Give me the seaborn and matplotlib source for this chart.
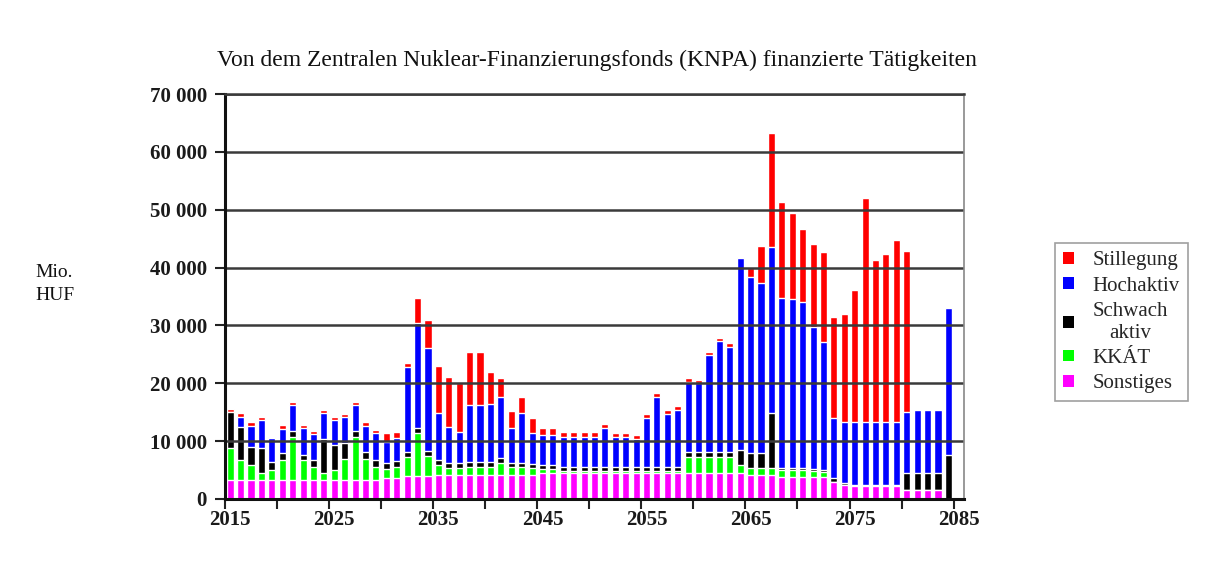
import numpy as np
import pandas as pd
import matplotlib
matplotlib.use("Agg")
import matplotlib.pyplot as plt
import seaborn as sns
from matplotlib.patches import Patch
from matplotlib.ticker import FixedLocator, FuncFormatter

years = list(range(2015, 2086))

sonstiges = [3300, 3300, 3300, 3300, 3300, 3300, 3300, 3300, 3300, 3300,
             3300, 3300, 3300, 3300, 3300, 3550, 3600, 3900, 3900, 3900,
             4150, 4150, 4150, 4150, 4150, 4150, 4150, 4150, 4150, 4150,
             4450, 4450, 4550, 4550, 4550, 4550, 4550, 4550, 4550, 4550,
             4550, 4550, 4550, 4550, 4550, 4550, 4550, 4550, 4550, 4450,
             4150, 4150, 4150, 3800, 3800, 3800, 3800, 3800, 3000, 2400,
             2200, 2200, 2200, 2200, 2200, 1550, 1550, 1550, 1550, 0, 0]
kkat = [5450, 3450, 2600, 1150, 1700, 3450, 7500, 3450, 2300, 1150,
        1700, 3700, 7500, 3700, 2300, 1550, 1900, 3400, 7500, 3450,
        1700, 1150, 1250, 1450, 1450, 1450, 2000, 1300, 1300, 1150,
        700, 700, 350, 350, 350, 350, 350, 350, 350, 350,
        350, 350, 350, 350, 2750, 2750, 2750, 2750, 2750, 1450,
        1150, 1150, 1150, 1200, 1200, 1200, 1100, 900, 0, 0,
        0, 0, 0, 0, 0, 0, 0, 0, 0, 0, 0]
schwach = [6300, 5750, 3150, 4300, 1450, 1150, 870, 860, 1150, 6000,
           4350, 2600, 870, 1150, 1150, 1050, 1000, 900, 900, 870,
           900, 850, 850, 850, 850, 850, 870, 700, 700, 700,
           750, 750, 690, 690, 690, 690, 690, 690, 690, 690,
           690, 690, 690, 690, 870, 870, 870, 870, 870, 2600,
           2600, 2600, 9500, 300, 300, 300, 300, 300, 570, 300,
           250, 250, 250, 250, 250, 2900, 2900, 2900, 2900, 7600, 0]
hochaktiv = [0, 1750, 3600, 4900, 4050, 4250, 4600, 4600, 4500, 4500,
             4300, 4600, 4600, 4500, 4600, 3750, 4000, 14550, 18200, 17860,
             8050, 6350, 5390, 9790, 9790, 10000, 10660, 6060, 8650, 5350,
             5160, 5160, 5180, 5180, 5180, 5180, 6610, 5060, 5060, 4770,
             8340, 11970, 9090, 9710, 12080, 11830, 16690, 19110, 18130, 33100,
             30500, 29400, 28800, 29400, 29200, 28800, 24500, 22200, 10370, 10660,
             10910, 10910, 10910, 10910, 10910, 10650, 10930, 10930, 10930, 25350, 0]
stillegung = [550, 570, 580, 580, 300, 580, 580, 580, 570, 450,
              500, 570, 580, 700, 570, 1450, 1000, 800, 4180, 4850,
              8180, 8640, 8350, 9220, 9220, 5550, 3290, 2990, 2770, 2600,
              1150, 1150, 750, 750, 750, 750, 700, 700, 700, 700,
              700, 700, 700, 700, 600, 600, 600, 600, 600, 300,
              1450, 6450, 19700, 16700, 15000, 12500, 14400, 15550, 17570, 18600,
              22760, 38600, 27940, 28980, 31400, 27800, 0, 0, 0, 0, 0]

series_names = ["Sonstiges", "KKÁT", "Schwach\naktiv", "Hochaktiv", "Stillegung"]
series_vals = [sonstiges, kkat, schwach, hochaktiv, stillegung]
series_colors = ["#FF00FF", "#00FF00", "#000000", "#0000FF", "#FF0000"]

cum = np.zeros(len(years))
cums = []
for v in series_vals:
    cum = cum + np.array(v, dtype=float)
    cums.append(cum.copy())

sns.set_theme(style="white")
plt.rcParams["font.family"] = ["Liberation Serif", "DejaVu Serif"]

fig = plt.figure(figsize=(12.09, 5.63), dpi=100)
ax = fig.add_axes([225 / 1209, 1 - 499 / 563, (964 - 225) / 1209, (499 - 94) / 563])

# draw cumulative totals from top layer down so they stack visually
for name, c, col in reversed(list(zip(series_names, cums, series_colors))):
    d = pd.DataFrame({"year": years, "val": c})
    sns.barplot(data=d, x="year", y="val", color=col, saturation=1,
                width=0.68, errorbar=None, ax=ax, zorder=2)

ax.set_xlim(-0.5, len(years) - 0.5)
ax.set_ylim(0, 70000)
ax.set_xlabel("")
ax.set_ylabel("")

# y axis
yt = list(range(0, 70001, 10000))
ax.yaxis.set_major_locator(FixedLocator(yt))
ax.yaxis.set_major_formatter(FuncFormatter(lambda v, p: f"{int(v):,}".replace(",", " ")))
ax.grid(axis="y", color="#3a3a3a", linewidth=1.8, zorder=3)
ax.set_axisbelow(False)

# x axis: tick marks at category boundaries every 5, labels every 10
ax.set_xticks([i - 0.5 for i in range(0, len(years), 5)])
ax.set_xticklabels([])
label_pos = [i for i, y in enumerate(years) if (y - 2015) % 10 == 0]
ax.set_xticks(label_pos, minor=True)
ax.set_xticklabels([str(years[i]) for i in label_pos], minor=True)
ax.tick_params(axis="x", which="major", direction="out", length=7, width=1.5,
               color="#222222", bottom=True)
ax.tick_params(axis="x", which="minor", length=0, pad=8, labelsize=15)
ax.tick_params(axis="y", direction="out", length=7, width=1.5, color="#222222",
               left=True, pad=6, labelsize=15)
for lab in ax.get_xticklabels(minor=True) + ax.get_yticklabels():
    lab.set_fontweight("bold")
    lab.set_color("#1a1a1a")

for s in ["left", "bottom"]:
    ax.spines[s].set_color("#111111")
    ax.spines[s].set_linewidth(2.2)
ax.spines["right"].set_color("#888888")
ax.spines["right"].set_linewidth(1.2)
ax.spines["top"].set_color("#3a3a3a")
ax.spines["top"].set_linewidth(1.8)
for s in ax.spines.values():
    s.set_zorder(4)

fig.text(597 / 1209, 1 - 60 / 563,
         "Von dem Zentralen Nuklear-Finanzierungsfonds (KNPA) finanzierte Tätigkeiten",
         ha="center", va="center", fontsize=17, color="#111111")
fig.text(35 / 1209, 1 - 284 / 563, "Mio.\nHUF", ha="left", va="center",
         fontsize=14, linespacing=1.5, color="#111111")

handles = [Patch(facecolor=col, edgecolor="none")
           for col in reversed(series_colors)]
labels = list(reversed(series_names))
leg = fig.legend(handles, labels, loc="upper left",
                 bbox_to_anchor=(1055 / 1209, 1 - 243 / 563),
                 frameon=True, fancybox=False, edgecolor="#888888",
                 fontsize=15, handlelength=0.5, handleheight=0.5,
                 handletextpad=0.9, labelspacing=0.3, borderpad=0.4,
                 borderaxespad=0)
leg.get_frame().set_linewidth(1.2)
for t in leg.get_texts():
    t.set_multialignment("center")

fig.savefig("out.png", dpi=100)
